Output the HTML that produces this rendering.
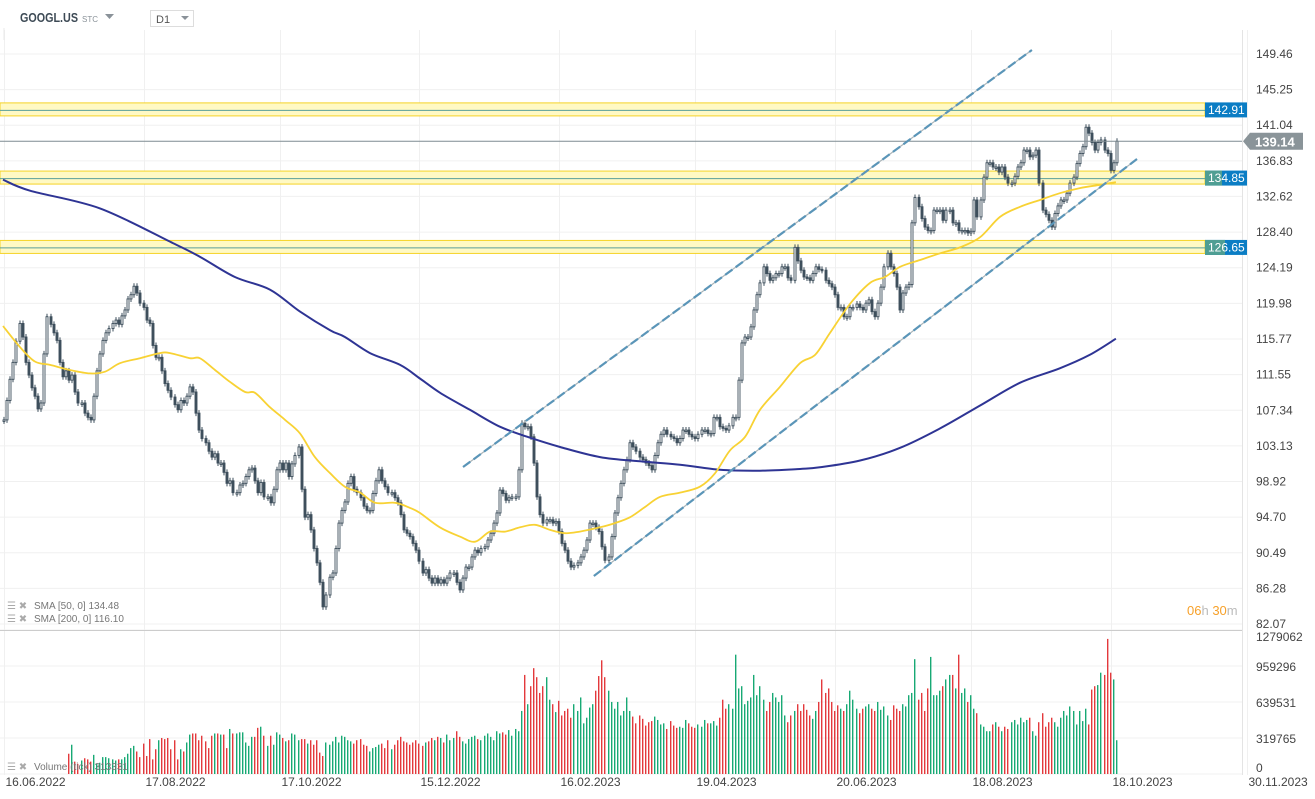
<!DOCTYPE html>
<html><head><meta charset="utf-8"><style>
html,body{margin:0;padding:0;background:#fff;}
svg{display:block;font-family:"Liberation Sans",sans-serif;}
</style></head><body>
<svg id="c" width="1315" height="799" viewBox="0 0 1315 799" xmlns="http://www.w3.org/2000/svg">
<rect x="0" y="0" width="1315" height="799" fill="#fff"/>
<g id="grid"></g>
<g id="zones"></g>
<g id="vol"></g>
<g id="candles"></g>
<g id="lines"></g>
<g id="axis"></g>
<g>
<line x1="4" y1="28" x2="4" y2="40" stroke="#e8e8e8"/>
<text x="20" y="22" font-size="13" font-weight="bold" fill="#3d4a55" textLength="58" lengthAdjust="spacingAndGlyphs">GOOGL.US</text>
<text x="82" y="22" font-size="8" fill="#8a9299">STC</text>
<path d="M105 14 L114 14 L109.5 19 Z" fill="#8a9299"/>
<rect x="150.5" y="10.5" width="43" height="16" fill="#fff" stroke="#ddd"/>
<text x="156" y="23" font-size="11" fill="#555">D1</text>
<path d="M181 16 L189 16 L185 20 Z" fill="#8a9299"/>
</g>
<g font-size="10" fill="#777">
<text x="7" y="609" font-size="10" fill="#aaa">☰ ✖</text>
<text x="34" y="609">SMA [50, 0] 134.48</text>
<text x="7" y="622" font-size="10" fill="#aaa">☰ ✖</text>
<text x="34" y="622">SMA [200, 0] 116.10</text>
<text x="7" y="770" font-size="10" fill="#aaa">☰ ✖</text>
<text x="34" y="770">Volume (tick) 313331</text>
</g>
<g font-size="13">
<text x="1187" y="615"><tspan fill="#f7a12a">06</tspan><tspan fill="#bbb">h </tspan><tspan fill="#f7a12a">30</tspan><tspan fill="#bbb">m</tspan></text>
</g>
</svg>
<script>
const closes=[106.2,108.5,111,113,115.5,117.6,116,113,111.5,110,109,107.5,108.2,114,118.4,117.5,116.5,115.6,113,111.3,112,110.9,111.5,109.5,108.2,108.2,107,106.5,106.2,109,112,114,115.6,116.5,117,117.6,118,117.5,118.5,119.2,120.5,121,122,121.2,120,119.5,118,117.6,115,113.6,113.6,112,110.5,109.7,108.9,108,107.4,108.5,108.2,109,110.1,109.5,107,105,104,103.5,102.5,101.8,102.2,101.1,101.1,100,98.7,99,97.6,97.6,98.5,98.7,99.5,100.3,100.5,99,97.6,98.8,97.1,97.1,96.4,98,100.3,101.1,100.3,101.1,99.5,101,102,103,98,94.7,95,93.2,91,89.3,87,84.1,85.5,87.6,88.1,91,94,95.5,96.5,98.7,99.5,98,97.6,97,96,95.5,95.5,97.5,99,100.3,99,98.3,97.6,97.6,97,96.4,95,93.2,92.8,92.4,91.6,90.8,89.5,88.1,88.5,87.5,86.9,87.5,86.9,87.3,86.9,87.5,88.1,88.1,87,86.1,87.5,88.8,88.8,90,90.8,90.5,91,91.2,92,92.8,94,95.2,97.9,97.5,96.7,97,97.1,97.1,100.3,105.8,105.4,105.4,104.2,101.1,97.1,95,94,94.4,94.4,94,94.2,93,91.6,90.8,89.5,88.8,89,89.3,90,90.8,92,94,94,93.5,93,91.2,89.6,90,92.4,95.2,97,98.7,100.3,101.5,103.5,103,102.5,101.8,101.5,101.1,100.8,100.3,102,103.5,104.5,105,104.5,104.2,104,103.5,104,105,105,104.5,104.2,104,104.5,105,105,104.6,104.6,106.5,106.5,105.4,105.2,105,105.5,106.5,106.5,110.9,115.3,116,116,117.2,119.2,121,122.4,124.3,123.5,122.7,123,123.5,123.5,124.3,124.3,123,122.7,126.6,125,123.9,123.1,123,122.7,123.5,124.3,124,123.9,122.7,122.3,121.9,121,119.5,119.5,118.4,118.4,119.5,119.5,119.9,119.5,119.2,120,120.4,119,118.4,120,121.9,124.3,125.9,124.3,123.5,121.9,119.2,121.2,121.9,122.2,129.5,132.5,131.4,130,129,128.6,128.6,131,131,131,129.8,131,131,129.5,129.5,128.6,128.6,128.6,128.3,128.5,132.2,130.2,132.2,134.9,136.6,136.6,136.1,136.1,135.5,136.1,134.9,134.2,134.2,135,136.1,136.6,138.1,138.1,137.3,137.5,138.1,134.2,131,130.5,129.8,129,130.6,131.5,132.2,132.2,133,134.2,134.9,136.5,137.7,138.5,140.8,140.1,139,138.1,139,139.3,138.1,137.7,135.7,136.6,139.14];
const volStart=21;
const volumesK=[180,260,110,90,120,140,130,110,170,90,100,150,150,140,130,120,130,130,150,180,230,250,200,150,270,160,310,130,220,300,320,310,320,220,300,130,220,200,280,350,360,360,300,340,290,230,340,360,360,350,350,230,400,360,360,370,370,280,250,330,330,410,420,340,250,340,260,370,350,320,290,300,360,350,300,310,310,270,300,260,300,190,160,280,260,290,330,280,340,330,300,290,270,300,310,260,250,200,230,240,260,270,230,300,220,260,300,330,290,280,260,280,300,270,250,280,290,320,300,330,320,280,350,300,320,380,330,290,270,310,330,340,310,300,340,360,330,300,380,360,370,350,390,340,400,380,560,880,620,780,940,860,720,780,860,660,620,550,650,520,560,580,500,620,560,680,450,500,590,620,740,870,1010,860,740,640,580,640,520,560,680,560,510,450,520,490,430,460,470,510,480,440,450,400,470,430,410,420,410,480,450,420,410,440,420,480,450,450,470,430,500,660,580,620,580,1060,760,780,620,650,680,880,700,780,660,560,640,720,680,640,700,520,460,520,560,620,560,620,570,520,490,560,640,840,720,760,640,560,610,580,560,620,740,660,580,540,580,600,620,580,560,640,570,600,520,480,610,580,560,620,600,700,720,1020,660,720,560,760,1040,700,700,740,780,840,880,880,760,1060,720,760,640,700,580,540,440,420,380,380,440,460,420,380,420,400,460,480,440,500,460,480,500,380,340,460,540,420,460,500,460,420,500,560,520,600,560,440,560,470,580,440,750,780,790,900,880,1200,900,840,300];
const sma50Idx=[0,5.5,10.3,15.2,21.6,28,32.9,37.7,44.2,50.6,53.9,60.3,63.5,68.4,73.2,78.1,81.3,86.1,91,95.8,100.6,105.5,110.3,115.2,120,126.5,131.3,134.5,140.9,147.4,152.3,157.1,162,166.8,171.6,176.5,181.3,186.1,192.6,197.4,202.3,207.1,211.9,218.4,224.8,229.7,234.5,239.4,244.2,250.6,257.1,262,266.8,273.2,279.7,284.5,289.4,295.8,302.3,308.7,315.2,321.6,328.1,334.5,340.9,347.4,353.9,359];
const sma50Val=[117.3,114.8,113.1,112.7,112.1,111.7,111.9,112.9,113.5,114.1,114.1,113.5,113.5,112.1,110.7,109.5,109.4,107.7,106.2,104.6,101.8,99.9,98.3,97.6,96.4,96.4,95.8,95.2,93.5,92.4,91.8,93,93,93.5,93.8,93.2,92.8,93,93.5,94,94.7,95.9,97.1,97.6,98.3,99.9,102.6,104.2,107.4,110.1,112.9,113.9,116.5,119.9,122.4,123.1,124.3,125.1,125.9,126.6,127.8,130.2,131.4,132.2,133,133.6,134,134.3];
const sma200Idx=[0,8.7,31.3,54.8,63.5,74.8,86.1,95.8,105.5,110.3,118.4,128.1,134.5,141,150.6,160.3,170,179.7,192.6,205.5,218.4,231.3,244.2,257.1,263.5,276.5,289.4,302.3,315.2,328.1,340.9,350.6,359];
const sma200Val=[134.6,133.3,131.2,127.1,125.5,123.1,121.6,119,116.8,116,114.1,112.7,111.1,109.4,107.4,105.4,104.1,103,101.8,101.3,100.9,100.3,100.2,100.4,100.6,101.4,102.9,105.2,107.9,110.6,112.3,113.9,115.8];
const priceTicks=["149.46","145.25","141.04","136.83","132.62","128.40","124.19","119.98","115.77","111.55","107.34","103.13","98.92","94.70","90.49","86.28","82.07"];
const volTicks=["1279062","959296","639531","319765","0"];
const dateLabels=["16.06.2022","17.08.2022","17.10.2022","15.12.2022","16.02.2023","19.04.2023","20.06.2023","18.08.2023","18.10.2023","30.11.2023"];
const dateIdx=[0,45,89,134,179,223,268,312,357,401];
const zonePrices=[142.91,134.85,126.65];
const lastPrice=139.14;
const trendUpper=[[148.4,100.63],[331.9,149.93]];
const trendLower=[[190.6,87.74],[365.8,137.05]];

const NS="http://www.w3.org/2000/svg";
const pMin=82.07,pMax=149.46,vMax=1279062;
function X(i){return 3+i*3.1;}
function Y(p){return 624-(p-pMin)/(pMax-pMin)*570;}
function VY(v){return 774-v/vMax*144;}
function mk(tag,attrs,parent){const e=document.createElementNS(NS,tag);for(const k in attrs)e.setAttribute(k,attrs[k]);parent.appendChild(e);return e;}
const grid=document.getElementById('grid'),zones=document.getElementById('zones'),vol=document.getElementById('vol'),cg=document.getElementById('candles'),lg=document.getElementById('lines'),ax=document.getElementById('axis');

priceTicks.forEach((t,k)=>{const y=Y(parseFloat(t));
 const l=mk('line',{x1:0,x2:1242,y1:y,y2:y,stroke:'#f0f0f0'},grid);
 
 
 const tx=mk('text',{x:1256,y:y+4,'font-size':12,fill:'#444'},ax);tx.textContent=t;
 
 });
volTicks.forEach(t=>{const y=VY(parseFloat(t));
 const l=mk('line',{x1:0,x2:1242,y1:y,y2:y,stroke:'#f0f0f0'},grid);
 
 
 const tx=mk('text',{x:1256,y:Math.max(Math.min(y+5,772),641),'font-size':12,fill:'#444'},ax);tx.textContent=t;
 
 });
dateLabels.forEach((d,k)=>{const x=Math.round(X(dateIdx[k]))+1.5;
 const l=mk('line',{x1:x,x2:x,y1:30,y2:775,stroke:'#f0f0f0'},grid);
 
 
 const tx=mk('text',{x:x+1,y:786,'font-size':12,fill:'#444'},ax);tx.textContent=d;
 
 });
let l0=mk('line',{x1:0,x2:1242,y1:630.5,y2:630.5,stroke:'#ccc'},ax);


let l1=mk('line',{x1:1242.5,x2:1242.5,y1:30,y2:775,stroke:'#e4e4e4'},ax);



const tealW=[0,17,20];
zonePrices.forEach((p,k)=>{const y=Y(p);
 const r=mk('rect',{x:0,y:y-6.5,width:1205,height:13,fill:'#fff9c4',stroke:'#f5d327','stroke-width':1},zones);
 
 
 const l=mk('line',{x1:0,x2:1205,y1:y+1,y2:y+1,stroke:'#5a9e9a','stroke-width':1},zones);
 
 
 const b=mk('rect',{x:1205,y:y-7,width:42,height:15,fill:'#0b7dc4'},ax);
 
 
 if(tealW[k]){const t=mk('rect',{x:1205,y:y-7,width:tealW[k],height:15,fill:'#4f9e93'},ax);
  
  }
 const tx=mk('text',{x:1208,y:y+4.5,'font-size':12,fill:'#fff'},ax);tx.textContent=p.toFixed(2);
 
 });

const ly=Y(lastPrice);
let lp=mk('line',{x1:0,x2:1243,y1:ly,y2:ly,stroke:'#7f8c92','stroke-width':1},lg);


let lb=mk('path',{d:`M1243 ${ly} L1250 ${ly-8.5} L1303 ${ly-8.5} L1303 ${ly+8.5} L1250 ${ly+8.5} Z`,fill:'#8a9499'},ax);


let lt=mk('text',{x:1255,y:ly+5,'font-size':13,'font-weight':'bold',fill:'#fff'},ax);lt.textContent=lastPrice.toFixed(2);



closes.forEach((c,i)=>{const o=i>0?closes[i-1]:c;const up=c>=o;const x=Math.round(X(i));
 const yt=Y(Math.max(o,c)),yb=Y(Math.min(o,c));
 const w=mk('line',{x1:x+1,x2:x+1,y1:yt-3,y2:Math.max(yb,yt+1)+3,stroke:'#3e4f5c','stroke-width':1},cg);
 
 
 const b=mk('rect',{x:x,y:yt,width:2,height:Math.max(yb-yt,1.5),fill:up?'#fff':'#3e4f5c',stroke:'#3e4f5c','stroke-width':0.9},cg);
 
 
 if(i>=volStart){const v=volumesK[i-volStart]*1000;const vy=VY(v);
  const vb=mk('rect',{x:x,y:vy,width:1.4,height:774-vy,fill:up?'#17a974':'#e3393c'},vol);
  
  }
});

function poly(idx,val,color,w,name){
 const pts=idx.map((ix,k)=>[X(ix),Y(val[k])]);
 let d=`M${pts[0][0].toFixed(1)} ${pts[0][1].toFixed(1)}`;
 for(let k=0;k<pts.length-1;k++){const p0=pts[k-1]||pts[k],p1=pts[k],p2=pts[k+1],p3=pts[k+2]||p2;
  const c1=[p1[0]+(p2[0]-p0[0])/6,p1[1]+(p2[1]-p0[1])/6],c2=[p2[0]-(p3[0]-p1[0])/6,p2[1]-(p3[1]-p1[1])/6];
  d+=` C${c1[0].toFixed(1)} ${c1[1].toFixed(1)} ${c2[0].toFixed(1)} ${c2[1].toFixed(1)} ${p2[0].toFixed(1)} ${p2[1].toFixed(1)}`;}
 const p=mk('path',{d:d,fill:'none',stroke:color,'stroke-width':w,'stroke-linejoin':'round'},lg);
 
 }
poly(sma200Idx,sma200Val,'#2e3494',2,'sma200-line');
poly(sma50Idx,sma50Val,'#f8d234',1.8,'sma50-line');

[trendUpper,trendLower].forEach((t,k)=>{const a={x1:X(t[0][0]),y1:Y(t[0][1]),x2:X(t[1][0]),y2:Y(t[1][1])};
 const g=mk('line',Object.assign({stroke:'#aab4b8','stroke-width':1.2},a),lg);
 
 
 const d=mk('line',Object.assign({stroke:'#5a95b8','stroke-width':2.2,'stroke-dasharray':'9 4'},a),lg);
 
 });
</script>
</body></html>
